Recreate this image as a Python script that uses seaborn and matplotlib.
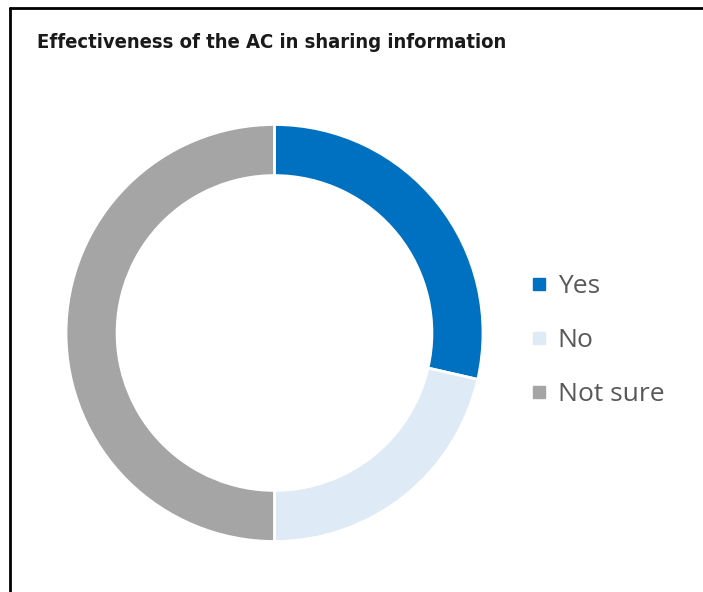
import matplotlib
matplotlib.use("Agg")
import matplotlib.pyplot as plt
from matplotlib.lines import Line2D
import seaborn as sns

categories = ["Yes", "No", "Not sure"]
values = [4, 3, 7]
colors = ["#0070C0", "#DEEAF6", "#A5A5A5"]
title = "Effectiveness of the AC in sharing information"

sns.set_theme(style="white")
plt.rcParams['font.family'] = ['DejaVu Sans']

W, H = 703, 592
fig = plt.figure(figsize=(W / 100, H / 100), dpi=100)
fig.patch.set_facecolor("white")

cx, cy, R = 274.5, 333, 208.5
ax = fig.add_axes([(cx - R) / W, (H - cy - R) / H, 2 * R / W, 2 * R / H])
wedges, _ = ax.pie(values, colors=colors, startangle=90, counterclock=False,
                   radius=1, wedgeprops=dict(width=0.245, edgecolor="white", linewidth=2))
ax.set_xlim(-1, 1)
ax.set_ylim(-1, 1)
ax.set_axis_off()

# title
fig.text(37 / W, 1 - 43 / H, title, fontsize=14.5, fontweight="bold",
         family=["DejaVu Sans"], fontstretch="condensed", color="#1a1a1a",
         ha="left", va="center")

# legend
handles = [Line2D([], [], marker="s", linestyle="none", markersize=8.5,
                  markerfacecolor=c, markeredgecolor=c) for c in colors]
leg = fig.legend(handles, categories, loc="center left",
                 bbox_to_anchor=(532 / W, 1 - 340.5 / H), frameon=False,
                 prop=dict(family=["Open Sans", "DejaVu Sans"], size=19),
                 labelcolor="#595959", labelspacing=1.09, handlelength=0.52,
                 handletextpad=0.45, borderpad=0, borderaxespad=0)

# border lines (top and left)
fig.add_artist(Line2D([9.5 / W, 1], [1 - 8 / H, 1 - 8 / H], color="black", lw=2,
                      transform=fig.transFigure))
fig.add_artist(Line2D([9.5 / W, 9.5 / W], [0, 1 - 8 / H], color="black", lw=2,
                      transform=fig.transFigure))

fig.savefig("out.png", dpi=100, facecolor="white")
